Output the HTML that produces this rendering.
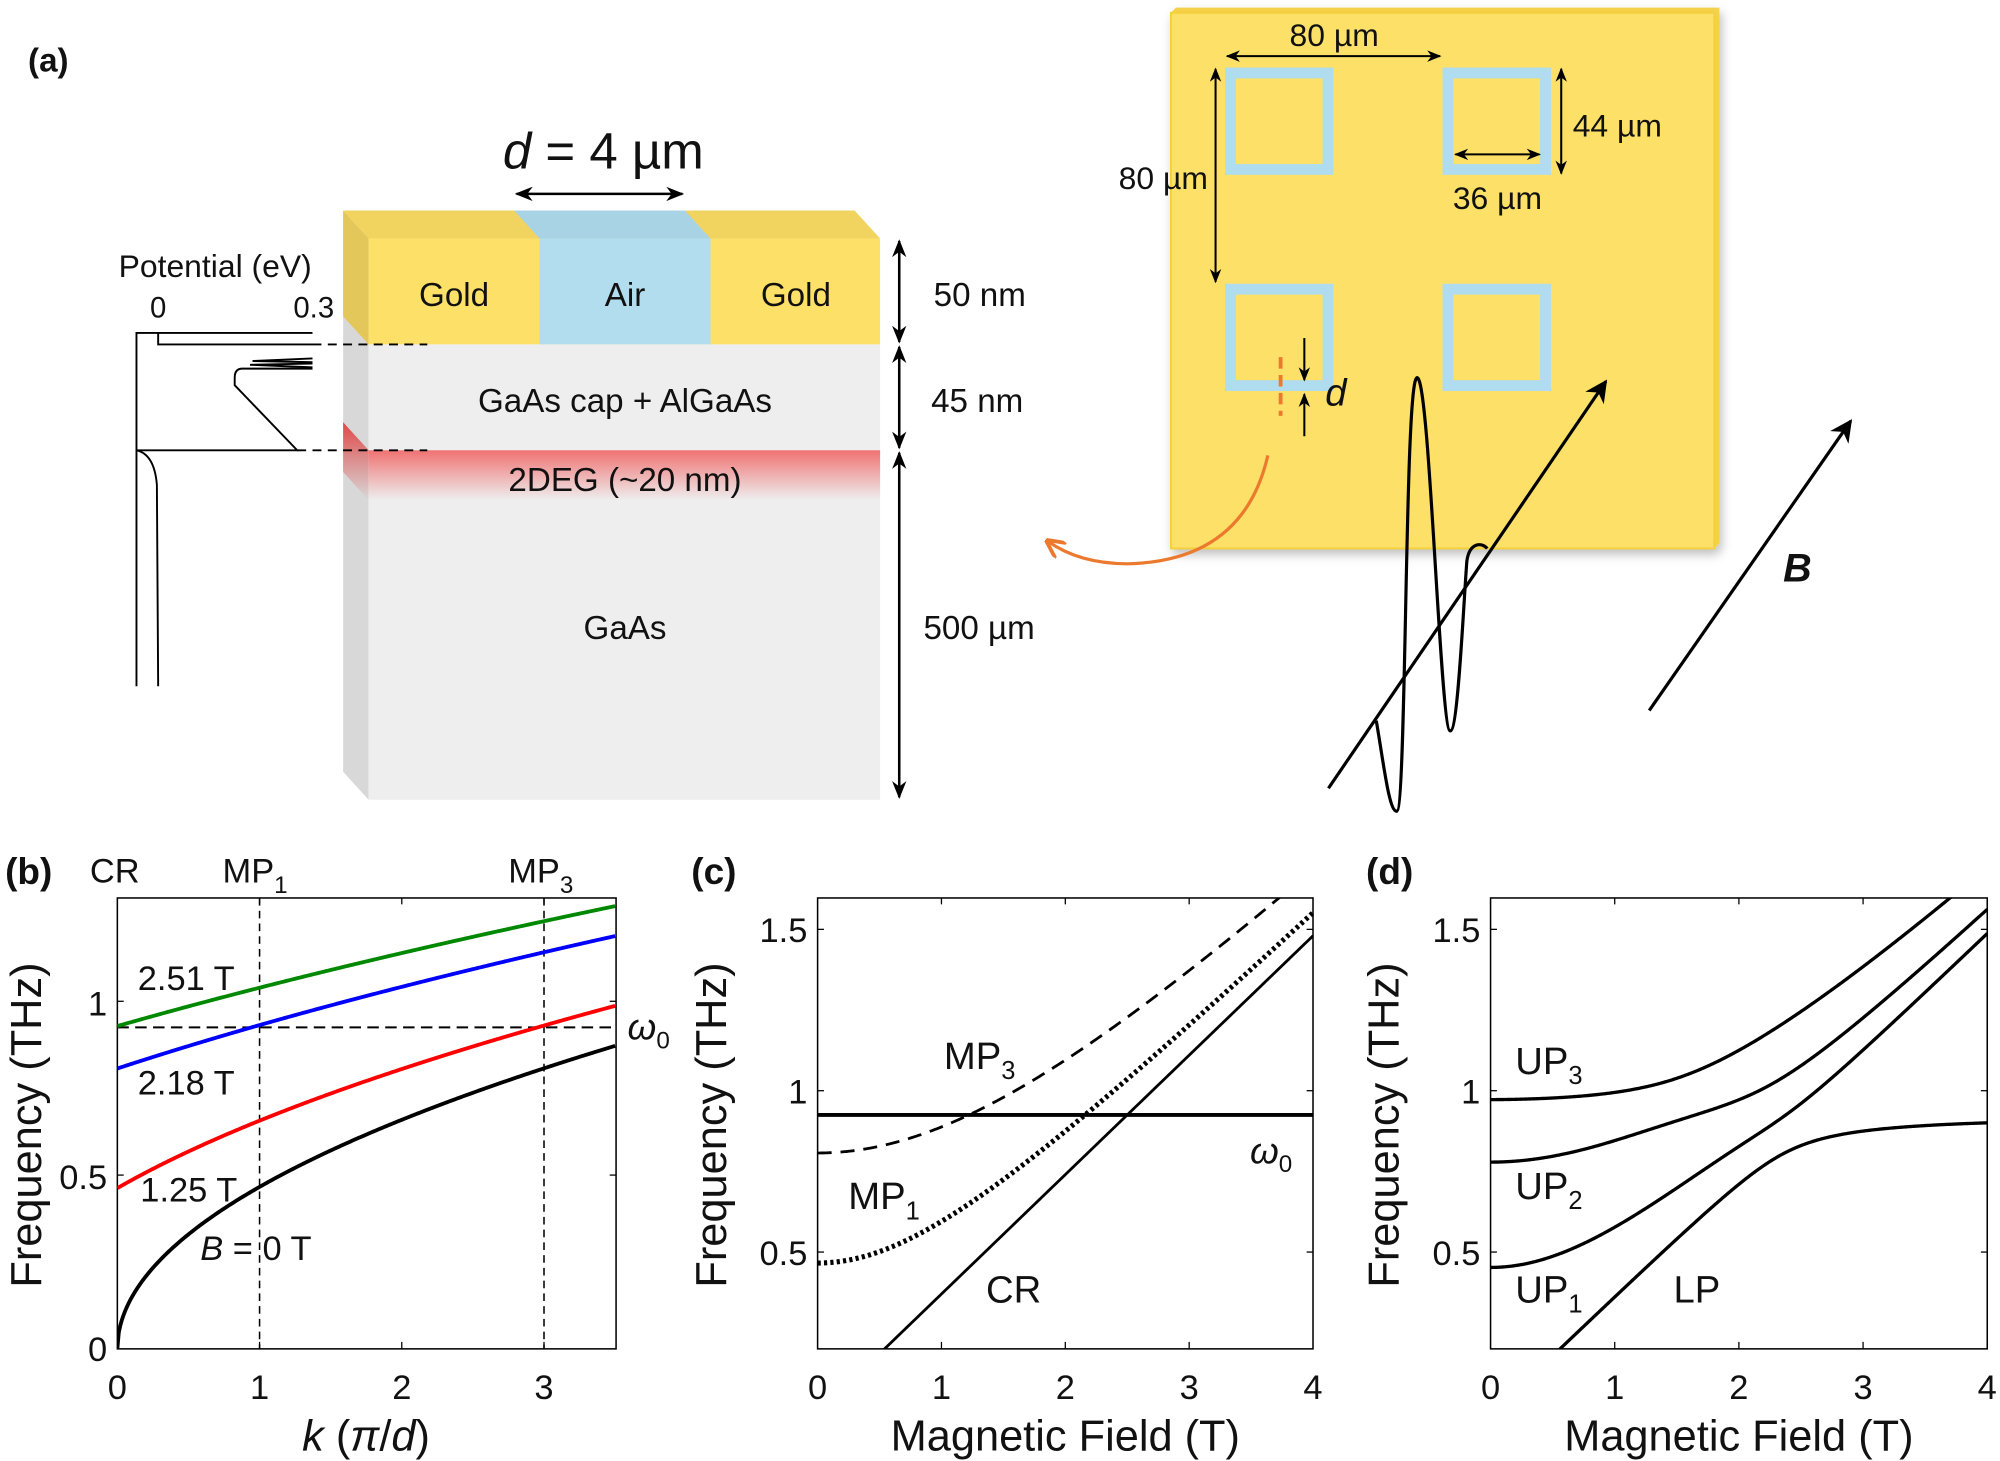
<!DOCTYPE html>
<html><head><meta charset="utf-8"><style>
html,body{margin:0;padding:0;background:#fff}
svg{display:block}
text{font-family:"Liberation Sans",Arial,sans-serif;fill:#111}
</style></head><body>
<svg id="s" width="2000" height="1461" viewBox="0 0 1568 1145.4" xmlns="http://www.w3.org/2000/svg">
<defs>
<linearGradient id="deg" x1="0" y1="0" x2="0" y2="1">
<stop offset="0" stop-color="#f07272"/><stop offset="1" stop-color="#eeeeee"/></linearGradient>
<linearGradient id="degs" x1="0" y1="0" x2="0" y2="1">
<stop offset="0" stop-color="#e04848"/><stop offset="1" stop-color="#d8d8d8"/></linearGradient>
<marker id="ah" viewBox="0 0 10 10" refX="9" refY="5" markerWidth="7" markerHeight="7" orient="auto-start-reverse"><path d="M0,1 L10,5 L0,9 L3,5z" fill="#000"/></marker>
<marker id="ahb" viewBox="0 0 10 10" refX="9" refY="5" markerWidth="7" markerHeight="7" orient="auto"><path d="M0,0 L10,5 L0,10 L3,5z" fill="#000"/></marker>
<marker id="aho" viewBox="0 0 10 10" refX="9" refY="5" markerWidth="6" markerHeight="6" orient="auto-start-reverse"><path d="M0,0 L10,5 L0,10" fill="none" stroke="#ec7a2e" stroke-width="2"/></marker>
<filter id="sh" x="-5%" y="-5%" width="115%" height="115%"><feDropShadow dx="2" dy="4" stdDeviation="4" flood-color="#000" flood-opacity="0.25"/></filter>
<clipPath id="cb"><rect x="92" y="704" width="391" height="354"/></clipPath>
<clipPath id="cc"><rect x="641" y="704" width="389" height="354"/></clipPath>
<clipPath id="cd"><rect x="1168.6" y="704" width="389.4" height="354"/></clipPath>
</defs>

<!-- (a) -->
<text x="22" y="56" font-size="26" font-weight="bold">(a)</text>
<polygon points="269,165 289,187 289,627 269,605" fill="#d8d8d8"/>
<polygon points="269,165 289,187 289,270 269,248" fill="#e4c75a"/>
<polygon points="269,331 289,353 289,392 269,370" fill="url(#degs)"/>
<rect x="289" y="187" width="401" height="83" fill="#fde068"/>
<rect x="423" y="187" width="134" height="83" fill="#b2ddee"/>
<polygon points="269,165 670,165 690,187 289,187" fill="#f1d45f"/>
<polygon points="403,165 537,165 557,187 423,187" fill="#a8d3e4"/>
<rect x="289" y="270" width="401" height="357" fill="#eeeeee"/>
<rect x="289" y="353" width="401" height="39" fill="url(#deg)"/>
<g font-size="26" text-anchor="middle">
<text x="356" y="240">Gold</text><text x="490" y="240">Air</text><text x="624" y="240">Gold</text>
<text x="490" y="323">GaAs cap + AlGaAs</text>
<text x="490" y="385">2DEG (~20 nm)</text>
<text x="490" y="501">GaAs</text>
</g>
<text x="473" y="132" font-size="40" text-anchor="middle"><tspan font-style="italic">d</tspan> = 4 µm</text>
<line x1="405" y1="152" x2="535" y2="152" stroke="#000" stroke-width="2" marker-start="url(#ah)" marker-end="url(#ah)"/>
<g stroke="#000" stroke-width="2">
<line x1="705" y1="189" x2="705" y2="268" marker-start="url(#ah)" marker-end="url(#ah)"/>
<line x1="705" y1="272" x2="705" y2="351" marker-start="url(#ah)" marker-end="url(#ah)"/>
<line x1="705" y1="355" x2="705" y2="625" marker-start="url(#ah)" marker-end="url(#ah)"/>
</g>
<g font-size="26"><text x="732" y="240">50 nm</text><text x="730" y="323">45 nm</text><text x="724" y="501">500 µm</text></g>
<text x="93" y="217" font-size="25">Potential (eV)</text>
<text x="124" y="249" font-size="23" text-anchor="middle">0</text>
<text x="246" y="249" font-size="23" text-anchor="middle">0.3</text>
<g fill="none" stroke="#000" stroke-width="1.5">
<path d="M107,538 L107,261 L245,261"/>
<path d="M124,261 L124,270 L245,270"/>
<path d="M245,281 L198,283 L245,284 M245,285 L196,286 L245,288"/>
<path d="M245,289 L190,289 Q184,289 184,296 L184,302 L233,353 L107,353"/>
<path d="M107,353 Q121,356 123,380 L124,538"/>
<path d="M245,270 L335,270 M233,353 L335,353" stroke-dasharray="7,5"/>
</g>

<g filter="url(#sh)">
<polygon points="922,6 1348,6 1344,10 918,10" fill="#f5d04a"/>
<polygon points="1344,10 1348,6 1348,426 1344,430" fill="#f5d04a"/>
<rect x="918" y="10" width="426" height="420" fill="#fde068" stroke="#f4d03a" stroke-width="1.5"/>
</g>
<g fill="none" stroke="#afdcee" stroke-width="8.5">
<rect x="964.7" y="57.2" width="76.5" height="75.6"/>
<rect x="1135.2" y="57.2" width="76.5" height="75.6"/>
<rect x="964.7" y="226.7" width="76.5" height="75.6"/>
<rect x="1135.2" y="226.7" width="76.5" height="75.6"/>
</g>
<g stroke="#000" stroke-width="1.6">
<line x1="962" y1="44" x2="1129" y2="44" marker-start="url(#ah)" marker-end="url(#ah)"/>
<line x1="953" y1="54" x2="953" y2="221" marker-start="url(#ah)" marker-end="url(#ah)"/>
<line x1="1224" y1="54" x2="1224" y2="136" marker-start="url(#ah)" marker-end="url(#ah)"/>
<line x1="1141" y1="121" x2="1207" y2="121" marker-start="url(#ah)" marker-end="url(#ah)"/>
<line x1="1022.6" y1="265" x2="1022.6" y2="298" marker-end="url(#ah)"/>
<line x1="1022.6" y1="342" x2="1022.6" y2="309" marker-end="url(#ah)"/>
</g>
<line x1="1004" y1="280" x2="1004" y2="326" stroke="#ec7a2e" stroke-width="3" stroke-dasharray="9,5"/>
<g font-size="25">
<text x="1046" y="36" text-anchor="middle">80 µm</text>
<text x="947" y="148" text-anchor="end">80 µm</text>
<text x="1233" y="107">44 µm</text>
<text x="1174" y="164" text-anchor="middle">36 µm</text>
</g>
<text x="1039" y="318" font-size="30" font-style="italic">d</text>
<path d="M994,357 Q975,440 884,442 Q846,442 821,424" fill="none" stroke="#ec7a2e" stroke-width="2.5" marker-end="url(#aho)"/>
<line x1="1041.5" y1="618" x2="1259" y2="299" stroke="#000" stroke-width="2.5" marker-end="url(#ahb)"/>
<line x1="1293" y1="557" x2="1451" y2="330" stroke="#000" stroke-width="2.5" marker-end="url(#ahb)"/>
<text x="1398" y="456" font-size="31" font-weight="bold" font-style="italic">B</text>
<path d="M1079,565 C1085,600 1089,636 1095,636 C1103,636 1101,296 1111,296 C1121,296 1129,573 1137,573 C1143,573 1147,480 1150,440 C1152,425 1162,425 1166,430" fill="none" stroke="#000" stroke-width="2.5"/>

<g font-size="29" font-weight="bold"><text x="4" y="693">(b)</text><text x="542" y="693">(c)</text><text x="1071" y="693">(d)</text></g>
<g font-size="27">
<text x="90" y="692" text-anchor="middle">CR</text>
<text x="200" y="692" text-anchor="middle">MP<tspan font-size="19" dy="8">1</tspan></text>
<text x="424" y="692" text-anchor="middle">MP<tspan font-size="19" dy="8">3</tspan></text>
</g>
<g id="plots"></g>
</svg>
<script>
var NS="http://www.w3.org/2000/svg",P=document.getElementById('plots');
function el(t,a,txt){var e=document.createElementNS(NS,t);for(var k in a)e.setAttribute(k,a[k]);if(txt!==undefined)e.innerHTML=txt;P.appendChild(e);return e;}
function path(pts,a){var d='';pts.forEach(function(p,i){d+=(i?'L':'M')+p[0].toFixed(2)+','+p[1].toFixed(2);});a.d=d;a.fill='none';return el('path',a);}
var Yb=function(f){return 1057.5-272.5*f},Xb=function(k){return 92+111.5*k};
var Yc=function(f){return 1057.5-(f-0.2)*253};
var Xc=function(B){return 641+97.1*B},Xd=function(B){return 1168.6+97.35*B};
var A=0.466,c=0.37,w0=0.925;
el('rect',{x:92,y:704,width:391,height:353.5,fill:'none',stroke:'#000','stroke-width':1.2});
[1,2,3].forEach(function(k){el('line',{x1:Xb(k),x2:Xb(k),y1:1057.5,y2:1052,stroke:'#000'});el('line',{x1:Xb(k),x2:Xb(k),y1:704,y2:709,stroke:'#000'});});
[0.5,1].forEach(function(f){el('line',{x1:92,x2:97,y1:Yb(f),y2:Yb(f),stroke:'#000'});el('line',{x1:483,x2:478,y1:Yb(f),y2:Yb(f),stroke:'#000'});});
[1,3].forEach(function(v){el('line',{x1:Xb(v),x2:Xb(v),y1:704,y2:1057,stroke:'#000','stroke-width':1.2,'stroke-dasharray':'6,4'});});
el('line',{x1:92,x2:483,y1:Yb(w0),y2:Yb(w0),stroke:'#000','stroke-width':1.6,'stroke-dasharray':'9,5'});
[[0,'#000'],[1.25,'#f00'],[2.18,'#00f'],[2.51,'#080']].forEach(function(b){var pts=[];for(var i=0;i<=350;i++){var k=i/100;pts.push([Xb(k),Yb(Math.sqrt(A*A*k+(c*b[0])*(c*b[0])))]);}path(pts,{stroke:b[1],'stroke-width':3,'clip-path':'url(#cb)'});});
var T=function(x,y,s,a,anc){a=a||{};a.x=x;a.y=y;a['font-size']=a['font-size']||27;if(anc)a['text-anchor']=anc;return el('text',a,s);};
T(92,1097,'0',{},'middle');T(Xb(1),1097,'1',{},'middle');T(Xb(2),1097,'2',{},'middle');T(Xb(3),1097,'3',{},'middle');
T(84,1067,'0',{},'end');T(84,932,'0.5',{},'end');T(84,796,'1',{},'end');
T(287,1137,'<tspan font-style="italic">k</tspan> (<tspan font-style="italic">π</tspan>/<tspan font-style="italic">d</tspan>)',{'font-size':34},'middle');
T(0,0,'Frequency (THz)',{'font-size':34,transform:'translate(32,882) rotate(-90)'},'middle');
T(108,776,'2.51 T');T(108,858,'2.18 T');T(110,942,'1.25 T');
T(157,988,'<tspan font-style="italic">B</tspan> = 0 T');
T(492,815,'<tspan font-style="italic">ω</tspan><tspan font-size="19" dy="7">0</tspan>',{'font-size':29});
function frame(X){el('rect',{x:X(0),y:704,width:X(4)-X(0),height:353.5,fill:'none',stroke:'#000','stroke-width':1.2});
[1,2,3].forEach(function(b){el('line',{x1:X(b),x2:X(b),y1:1057.5,y2:1052,stroke:'#000'});el('line',{x1:X(b),x2:X(b),y1:704,y2:709,stroke:'#000'});});
[0.5,1,1.5].forEach(function(f){el('line',{x1:X(0),x2:X(0)+5,y1:Yc(f),y2:Yc(f),stroke:'#000'});el('line',{x1:X(4),x2:X(4)-5,y1:Yc(f),y2:Yc(f),stroke:'#000'});});
[0,1,2,3,4].forEach(function(b){T(X(b),1097,''+b,{},'middle');});
T(X(0)-8,Yc(0.5)+10,'0.5',{},'end');T(X(0)-8,Yc(1)+10,'1',{},'end');T(X(0)-8,Yc(1.5)+10,'1.5',{},'end');
T((X(0)+X(4))/2,1137,'Magnetic Field (T)',{'font-size':34},'middle');
T(0,0,'Frequency (THz)',{'font-size':34,transform:'translate('+(X(0)-72)+',882) rotate(-90)'},'middle');}
frame(Xc);frame(Xd);
function curve(X,fn,a,clip){var pts=[];for(var i=0;i<=400;i++){var B=i/100;pts.push([X(B),Yc(fn(B))]);}a['clip-path']=clip;return path(pts,a);}
curve(Xc,function(B){return c*B},{stroke:'#000','stroke-width':2.2},'url(#cc)');
curve(Xc,function(B){return w0},{stroke:'#000','stroke-width':3},'url(#cc)');
curve(Xc,function(B){return Math.sqrt(A*A+c*c*B*B)},{stroke:'#000','stroke-width':4,'stroke-dasharray':'2.5,2.5'},'url(#cc)');
curve(Xc,function(B){return Math.sqrt(0.807*0.807+c*c*B*B)},{stroke:'#000','stroke-width':2.2,'stroke-dasharray':'11,7'},'url(#cc)');
T(740,838,'MP<tspan font-size="20" dy="8">3</tspan>',{'font-size':30});
T(665,948,'MP<tspan font-size="20" dy="8">1</tspan>',{'font-size':30});
T(773,1021,'CR',{'font-size':30});
T(980,912,'<tspan font-style="italic">ω</tspan><tspan font-size="19" dy="7">0</tspan>',{'font-size':29});
function eig(M){var n=M.length,a=M.map(function(r){return r.slice()});for(var sw=0;sw<60;sw++){for(var p=0;p<n;p++)for(var q=p+1;q<n;q++){if(Math.abs(a[p][q])<1e-14)continue;var th=(a[q][q]-a[p][p])/(2*a[p][q]);var t=(th>=0?1:-1)/(Math.abs(th)+Math.sqrt(th*th+1));var cs=1/Math.sqrt(t*t+1),sn=t*cs;for(var k=0;k<n;k++){var akp=a[k][p],akq=a[k][q];a[k][p]=cs*akp-sn*akq;a[k][q]=sn*akp+cs*akq;}for(var k=0;k<n;k++){var apk=a[p][k],aqk=a[q][k];a[p][k]=cs*apk-sn*aqk;a[q][k]=sn*apk+cs*aqk;}}}var e=[];for(var i=0;i<n;i++)e.push(a[i][i]);return e.sort(function(x,y){return x-y});}
var g0=0.07,g1=0.08,g3=0.07;
var ev=[];for(var i=0;i<=400;i++){var B=i/100;var cr=c*B,m1=Math.sqrt(A*A+cr*cr),m3=Math.sqrt(0.807*0.807+cr*cr);
ev.push(eig([[cr,0,0,g0],[0,m1,0,g1],[0,0,m3,g3],[g0,g1,g3,w0]]));}
for(var j=0;j<4;j++){var pts=[];for(var i=0;i<=400;i++)pts.push([Xd(i/100),Yc(ev[i][j])]);path(pts,{stroke:'#000','stroke-width':2.6,'clip-path':'url(#cd)'});}
T(1188,842,'UP<tspan font-size="20" dy="8">3</tspan>',{'font-size':30});
T(1188,940,'UP<tspan font-size="20" dy="8">2</tspan>',{'font-size':30});
T(1188,1021,'UP<tspan font-size="20" dy="8">1</tspan>',{'font-size':30});
T(1312,1021,'LP',{'font-size':30});
</script>
</body></html>
